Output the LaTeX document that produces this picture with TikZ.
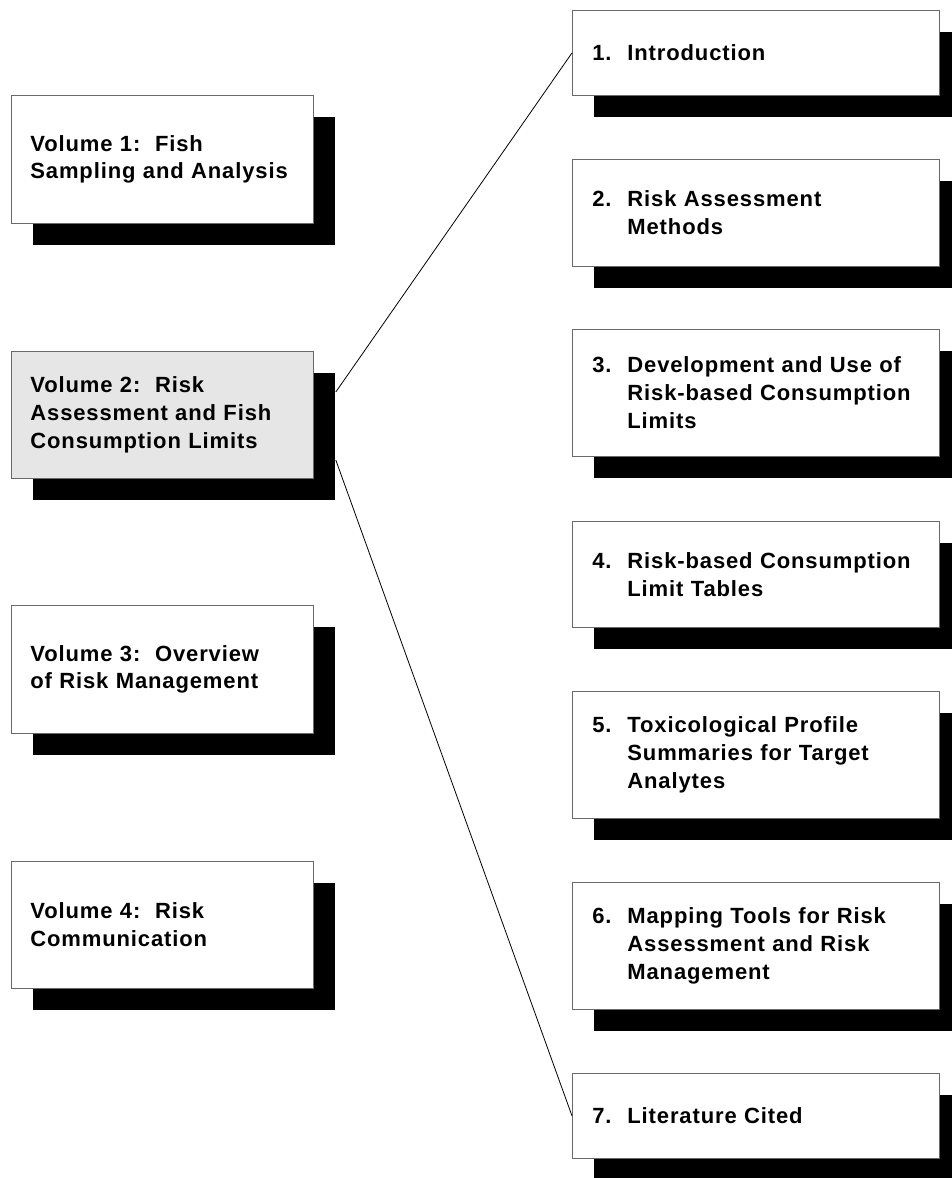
\documentclass[tikz,border=0pt]{standalone}
\usepackage{fontspec}
\setmainfont{Liberation Sans}[LetterSpace=4]
\usetikzlibrary{shadows,calc}
\definecolor{boxgray}{RGB}{230,230,230}
\definecolor{edgegray}{RGB}{105,105,105}
\tikzset{
  shadowbox/.style={draw=edgegray, line width=0.8pt, fill=white, rectangle,
    general shadow={shadow xshift=22pt, shadow yshift=-22pt, fill=black},
    font=\fontsize{22}{27.8}\selectfont\bfseries, align=left, anchor=north west,
    inner ysep=0pt},
  volbox/.style={shadowbox, minimum width=302pt, text width=264pt, inner xsep=19pt},
  chapbox/.style={shadowbox, minimum width=367pt, text width=327pt, inner xsep=20pt},
  link/.style={draw=black, line width=0.8pt}
}
\newcommand{\chapnum}[1]{\makebox[35pt][l]{#1}}
\newcommand{\chapind}{\hspace*{35pt}}
\begin{document}
\begin{tikzpicture}[x=1pt,y=1pt]
\useasboundingbox (0,0) rectangle (952,-1178);
\clip (0,0) rectangle (952,-1178);
% left column
\node[volbox, minimum height=128pt] (v1) at (11,-95) {Volume 1:\ \ Fish\\Sampling and Analysis};
\node[volbox, minimum height=127pt, fill=boxgray] (v2) at (11,-351) {Volume 2:\ \ Risk\\Assessment and Fish\\Consumption Limits};
\node[volbox, minimum height=128pt] (v3) at (11,-605) {Volume 3:\ \ Overview\\of Risk Management};
\node[volbox, minimum height=127pt] (v4) at (11,-861) {Volume 4:\ \ Risk\\Communication};
% right column
\node[chapbox, minimum height=85pt] (c1) at (572,-10) {\chapnum{1.}Introduction};
\node[chapbox, minimum height=107pt] (c2) at (572,-159) {\chapnum{2.}Risk Assessment\\\chapind Methods};
\node[chapbox, minimum height=127pt] (c3) at (572,-329) {\chapnum{3.}Development and Use of\\\chapind Risk-based Consumption\\\chapind Limits};
\node[chapbox, minimum height=106pt] (c4) at (572,-521) {\chapnum{4.}Risk-based Consumption\\\chapind Limit Tables};
\node[chapbox, minimum height=127pt] (c5) at (572,-691) {\chapnum{5.}Toxicological Profile\\\chapind Summaries for Target\\\chapind Analytes};
\node[chapbox, minimum height=127pt] (c6) at (572,-882) {\chapnum{6.}Mapping Tools for Risk\\\chapind Assessment and Risk\\\chapind Management};
\node[chapbox, minimum height=85pt] (c7) at (572,-1073) {\chapnum{7.}Literature Cited};
% connectors
\coordinate (v2top) at ($(v2.north east)+(22,-41)$);
\coordinate (v2bot) at ($(v2.north east)+(22,-109)$);
\draw[link] (v2top) -- (c1.west);
\draw[link] (v2bot) -- (c7.west);
\end{tikzpicture}
\end{document}
